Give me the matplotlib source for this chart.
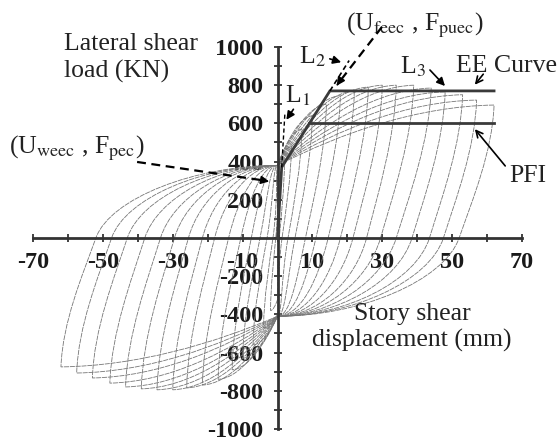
import matplotlib
matplotlib.use('Agg')
import matplotlib.pyplot as plt
from matplotlib.path import Path
from matplotlib.patches import PathPatch

plt.rcParams['font.family'] = ['Liberation Serif', 'DejaVu Serif']
plt.rcParams['mathtext.fontset'] = 'stix'
plt.rcParams['axes.unicode_minus'] = False

# ---------------- data ----------------
# hysteresis cycles: positive peaks, negative peaks, zero-load crossings
pos_peak_disp = [2, 4, 7, 10, 14, 18, 22, 26, 30, 34, 39, 44, 48, 53, 57, 62]
pos_peak_force = [400, 480, 570, 640, 700, 745, 770, 790, 800, 800, 800, 785, 765, 750, 722, 696]
pos_unload_zero = [0.5, 1.3, 3, 5, 8, 11, 14.5, 18, 21.6, 25.5, 29.5, 34, 38.5, 43.5, 47.5, 52]
neg_peak_disp = [-2, -4, -7, -10, -13, -17, -21.5, -26, -30, -34.5, -39, -43.5, -48, -53, -57.5, -62]
neg_peak_force = [-380, -470, -560, -630, -690, -740, -770, -785, -795, -795, -790, -780, -760, -733, -707, -675]
neg_reload_zero = [-0.5, -1.3, -3, -5, -7.5, -10.5, -14, -18, -21.5, -25.5, -29.5, -33.5, -38, -43, -47.5, -52]
pinch_force_pos = 380
pinch_force_neg = -410

# equivalent energy (EE) curve and PFI line
ee_disp = [0, 1.2, 15, 62]
ee_force = [0, 370, 770, 770]
pfi_disp = [9.1, 62]
pfi_force = [600, 600]
l1_ext_disp = [1.2, 2.1]
l1_ext_force = [370, 647]
l2_ext_disp = [15, 20.5]
l2_ext_force = [770, 929]

x_ticks = [-70, -60, -50, -40, -30, -20, -10, 0, 10, 20, 30, 40, 50, 60, 70]
x_tick_labels = ['-70', '', '-50', '', '-30', '', '-10', '', '10', '', '30', '', '50', '', '70']
y_ticks = list(range(-1000, 1001, 100))
y_tick_labels = [str(v) if (v % 200 == 0 and v != 0) else '' for v in y_ticks]


def loop_path(dp, fp, cp, dn, fn, cn, pp, pn):
    pp_ = min(pp, 0.85 * fp)
    pn_ = max(pn, 0.85 * fn)
    verts = [(0, pp_)]
    # loading branch to positive peak
    verts += [(0.3 * dp, pp_ + 0.55 * (fp - pp_)), (0.65 * dp, fp - 0.02 * (fp - pp_)), (dp, fp)]
    # unloading to zero crossing
    a = dp - cp
    verts += [(dp - 0.05 * a, 0.65 * fp), (cp + 0.4 * a, 0.3 * fp), (cp, 0)]
    k = (0.55 * (-pn_)) / (0.3 * fp)
    verts += [(cp - 0.4 * a * k, 0.55 * pn_), (0.45 * cp, pn_), (0, pn_)]
    # lower branch to negative peak
    verts += [(0.3 * dn, pn_ + 0.55 * (fn - pn_)), (0.65 * dn, fn - 0.02 * (fn - pn_)), (dn, fn)]
    b = cn - dn
    verts += [(dn + 0.05 * b, 0.65 * fn), (cn - 0.4 * b, 0.3 * fn), (cn, 0)]
    k2 = (0.55 * pp_) / (-0.3 * fn)
    verts += [(cn + 0.4 * b * k2, 0.55 * pp_), (0.45 * cn, pp_), (0, pp_)]
    codes = [Path.MOVETO] + [Path.CURVE4] * 18
    return Path(verts, codes)


fig = plt.figure(figsize=(5.6, 4.41), dpi=100)
ax = fig.add_axes([0, 0, 1, 1])
ax.set_xlim(-79.45, 80.88)
ax.set_ylim(-1063, 1246)

for i in range(len(pos_peak_disp)):
    p = loop_path(pos_peak_disp[i], pos_peak_force[i], pos_unload_zero[i],
                  neg_peak_disp[i], neg_peak_force[i], neg_reload_zero[i],
                  pinch_force_pos, pinch_force_neg)
    ax.add_patch(PathPatch(p, facecolor='none', edgecolor='#767676', lw=0.6,
                           linestyle=(0, (6, 1)), zorder=2))

ax.plot(ee_disp, ee_force, color='#3a3a3a', lw=2.0, zorder=4, solid_joinstyle='miter')
ax.plot(pfi_disp, pfi_force, color='#3a3a3a', lw=2.0, zorder=4)
ax.plot(l1_ext_disp, l1_ext_force, color='black', lw=1.0, ls=(0, (3, 2)), zorder=4)
ax.plot(l2_ext_disp, l2_ext_force, color='black', lw=1.2, ls=(0, (3, 2)), zorder=4)

# axes through origin
for s in ['top', 'right']:
    ax.spines[s].set_visible(False)
ax.spines['left'].set_position(('data', 0))
ax.spines['bottom'].set_position(('data', 0))
ax.spines['left'].set_bounds(-1000, 1000)
ax.spines['bottom'].set_bounds(-70, 70)
for s in ['left', 'bottom']:
    ax.spines[s].set_color('#333333')
    ax.spines[s].set_linewidth(2.0)
    ax.spines[s].set_zorder(3)

ax.set_xticks(x_ticks, x_tick_labels, fontsize=17.5, fontweight='bold')
ax.set_yticks(y_ticks, y_tick_labels, fontsize=17.5, fontweight='bold')
ax.tick_params(axis='both', direction='inout', length=6, width=1.3, color='#333333',
               labelcolor='#1a1a1a')
ax.tick_params(axis='x', pad=7)
ax.tick_params(axis='y', pad=7)

fs = 18.5
ax.text(-61.1, 984, 'Lateral shear', fontsize=fs, ha='left', va='baseline', color='#222222')
ax.text(-61.1, 838, 'load (KN)', fontsize=fs, ha='left', va='baseline', color='#222222')
ax.text(38.5, -429, 'Story shear', fontsize=fs, ha='center', va='baseline', color='#222222')
ax.text(38.5, -571, 'displacement (mm)', fontsize=fs, ha='center', va='baseline', color='#222222')

# annotations
ax.text(-57.5, 470, r'(U$_{\mathrm{weec}}$ , F$_{\mathrm{pec}}$)', fontsize=fs, ha='center',
        va='center', color='#222222')
ax.plot([-40.2, -3.5], [398, 300], color='black', lw=1.6, ls=(0, (4, 2.5)), zorder=5)
ax.annotate('', xy=(-1.6, 293), xytext=(-4.5, 303),
            arrowprops=dict(arrowstyle='-|>', color='black', lw=1.2, mutation_scale=12), zorder=5)

ax.text(39.4, 1115, r'(U$_{\mathrm{feec}}$ , F$_{\mathrm{puec}}$)', fontsize=fs, ha='center',
        va='center', color='#222222')
ax.plot([29.9, 17.2], [1105, 805], color='black', lw=1.6, ls=(0, (4, 2.5)), zorder=5)
ax.annotate('', xy=(16.5, 785), xytext=(17.6, 815),
            arrowprops=dict(arrowstyle='-|>', color='black', lw=1.2, mutation_scale=12), zorder=5)

ax.text(9.9, 948, r'L$_2$', fontsize=fs, ha='center', va='center', color='#222222')
ax.annotate('', xy=(19, 916), xytext=(14.2, 942),
            arrowprops=dict(arrowstyle='-|>', color='black', lw=1.2, mutation_scale=12))
ax.text(5.9, 743, r'L$_1$', fontsize=fs, ha='center', va='center', color='#222222')
ax.annotate('', xy=(2.1, 607), xytext=(5.0, 686),
            arrowprops=dict(arrowstyle='-|>', color='black', lw=1.2, mutation_scale=12))
ax.text(38.8, 895, r'L$_3$', fontsize=fs, ha='center', va='center', color='#222222')
ax.annotate('', xy=(48.5, 785), xytext=(43.1, 890),
            arrowprops=dict(arrowstyle='-|>', color='black', lw=1.2, mutation_scale=12))
ax.text(65.7, 900, 'EE Curve', fontsize=fs, ha='center', va='center', color='#222222')
ax.annotate('', xy=(56, 791), xytext=(59.4, 869),
            arrowprops=dict(arrowstyle='->', color='black', lw=1.2, mutation_scale=12))
ax.text(71.7, 325, 'PFI', fontsize=fs, ha='center', va='center', color='#222222')
ax.annotate('', xy=(56, 581), xytext=(65.7, 366),
            arrowprops=dict(arrowstyle='->', color='black', lw=1.2, mutation_scale=12))

fig.savefig('out.png', dpi=100)
